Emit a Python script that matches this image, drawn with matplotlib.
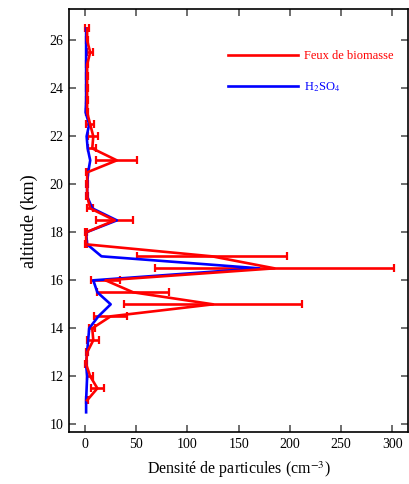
import numpy as np
import matplotlib
matplotlib.use("Agg")
import matplotlib.pyplot as plt
from matplotlib.lines import Line2D

plt.rcParams['font.family'] = ['Liberation Serif', 'DejaVu Serif']
plt.rcParams['mathtext.fontset'] = 'stix'

# Feux de biomasse (rouge), avec barres d'erreur horizontales
alt_feux = [11.0, 11.5, 12.0, 12.5, 13.0, 13.5, 14.0, 14.5, 15.0, 15.5,
            16.0, 16.5, 17.0, 17.5, 18.0, 18.5, 19.0, 19.5, 20.0, 20.5,
            21.0, 21.5, 22.0, 22.5, 23.0, 23.5, 24.0, 24.5, 25.0, 25.5,
            26.0, 26.5]
dens_feux = [2, 12, 5, 1, 2, 8, 7, 25, 125, 47,
             20, 185, 124, 1, 1, 29, 5, 2, 2, 2,
             31, 7, 8, 5, 2, 2, 2, 2, 2, 5,
             2, 2]
err_feux = [1, 6, 3, 1, 1, 6, 3, 16, 87, 35,
            14, 117, 73, 1, 1, 18, 3, 1, 1, 1,
            20, 4, 5, 4, 1, 1, 1, 1, 1, 3,
            1, 2]

# H2SO4 (bleu)
alt_h2so4 = [10.5, 11.0, 11.5, 12.0, 12.5, 13.0, 13.5, 14.0, 14.5, 15.0,
             15.5, 16.0, 16.5, 17.0, 17.5, 18.0, 18.5, 19.0, 19.5, 20.0,
             20.5, 21.0, 21.5, 22.0, 22.5, 23.0, 23.5, 24.0, 24.5, 25.0,
             25.5, 26.0, 26.5]
dens_h2so4 = [1, 1, 1.5, 2, 1, 2, 3, 4, 13, 25,
              12, 8, 170, 16, 2, 1, 31, 7, 2, 2,
              3, 5, 2.5, 1.5, 4, 0.5, 1, 1, 1, 1,
              1, 1, 1]

fig = plt.figure(figsize=(4.09, 4.84), dpi=100)
ax = fig.add_axes([0.169, 0.107, 0.829, 0.874])

ax.errorbar(dens_feux, alt_feux, xerr=err_feux, color='red', lw=1.9,
            elinewidth=1.9, capsize=3, capthick=1.6)
ax.plot(dens_h2so4, alt_h2so4, color='blue', lw=1.9)

ax.set_xlim(-15.6, 315.6)
ax.set_ylim(9.67, 27.3)
ax.set_xticks(np.arange(0, 301, 50))
ax.set_yticks(np.arange(10, 27, 2))
ax.tick_params(direction='in', top=True, right=True, length=5, width=1.2,
               color='#555555', labelsize=10, pad=4)
for s in ax.spines.values():
    s.set_linewidth(1.2)

ax.set_xlabel('Densité de particules (cm$^{-3}$)', fontsize=11.5, labelpad=6)
ax.set_ylabel('altitude (km)', fontsize=13, labelpad=8)

handles = [Line2D([], [], color='red', lw=1.9), Line2D([], [], color='blue', lw=1.9)]
labels = ['Feux de biomasse', 'H$_2$SO$_4$']
ax.legend(handles, labels, loc='upper left', bbox_to_anchor=(0.435, 0.93),
          frameon=False, fontsize=9, handlelength=5.6, handletextpad=0.5,
          labelspacing=1.45, labelcolor='linecolor')

fig.savefig('out.png', dpi=100)
